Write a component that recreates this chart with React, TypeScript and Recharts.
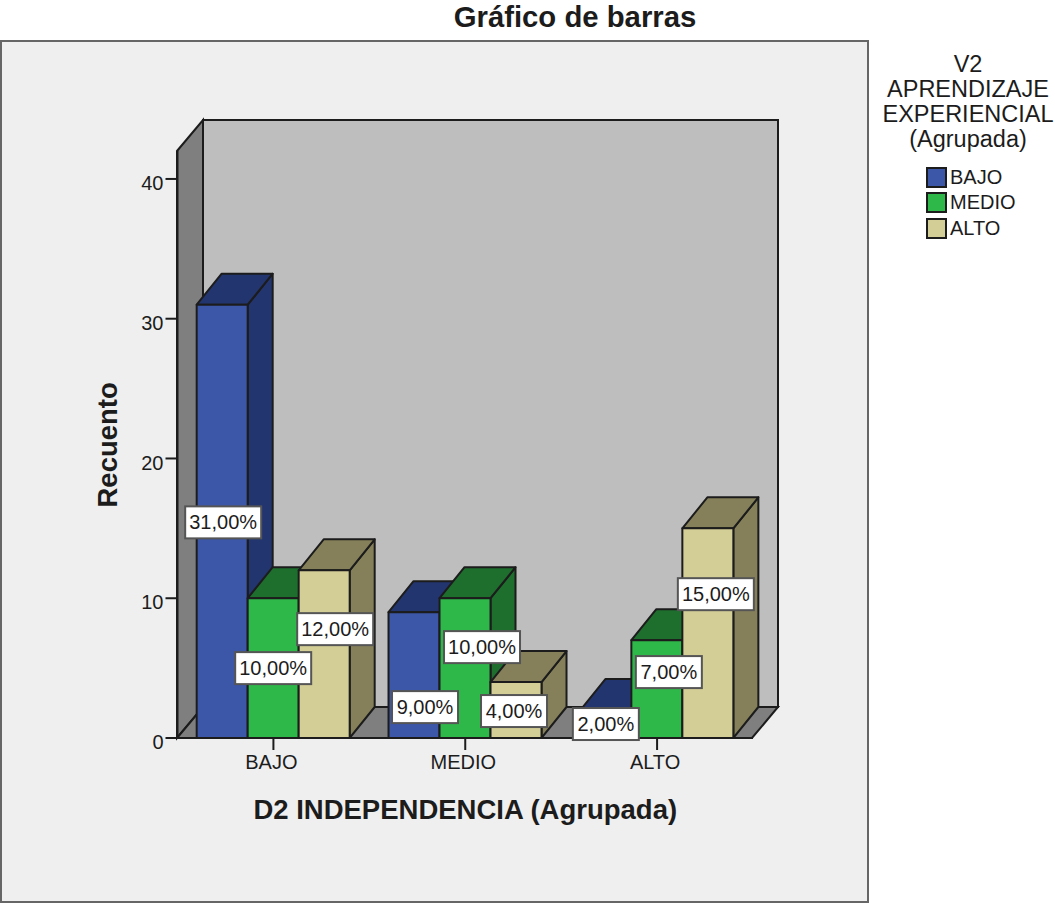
import { Bar, BarChart, LabelList, XAxis, YAxis } from "recharts";

const categories = ["BAJO", "MEDIO", "ALTO"];
const bajoValues = [31, 9, 2];
const medioValues = [10, 10, 7];
const altoValues = [12, 4, 15];
const yTicks = [0, 10, 20, 30, 40];

const legendTitle = ["V2", "APRENDIZAJE", "EXPERIENCIAL", "(Agrupada)"];

const chartData = categories.map((name, i) => ({
  name,
  BAJO: bajoValues[i],
  MEDIO: medioValues[i],
  ALTO: altoValues[i],
}));

const SERIES = [
  { key: "BAJO", front: "#3c56a8", dark: "#23356f", nudge: [[1, 1], [11, 32], [0, 0]] },
  { key: "MEDIO", front: "#2fb84a", dark: "#1e6e2e", nudge: [[0, 0], [17, -21], [12, -17]] },
  { key: "ALTO", front: "#d3cd96", dark: "#85805a", nudge: [[11, -25], [-2, 1], [8, -39]] },
];

const FONT = "'Liberation Sans', Arial, sans-serif";
const INK = "#1c1c1c";
const DEPTH_X = 25;
const DEPTH_Y = 31;

function Bar3D(props: any) {
  const { x, y, width, height, fill, dark } = props;
  const r = x + width;
  const b = y + height;
  return (
    <g stroke={INK} strokeWidth={2} strokeLinejoin="round">
      <polygon
        fill={dark}
        points={`${r},${y} ${r + DEPTH_X},${y - DEPTH_Y} ${r + DEPTH_X},${b - DEPTH_Y} ${r},${b}`}
      />
      <polygon
        fill={dark}
        points={`${x},${y} ${x + DEPTH_X},${y - DEPTH_Y} ${r + DEPTH_X},${y - DEPTH_Y} ${r},${y}`}
      />
      <rect x={x} y={y} width={width} height={height} fill={fill} />
    </g>
  );
}

function PercentLabel(props: any) {
  const { x, y, width, height, value, index, nudge } = props;
  const text = `${value},00%`;
  const w = text.length > 5 ? 76 : 66;
  const cx = x + width / 2 + nudge[index][0];
  const cy = y + height / 2 + nudge[index][1];
  return (
    <g>
      <rect x={cx - w / 2} y={cy - 16} width={w} height={32} fill="#fff" stroke="#555" strokeWidth={2} />
      <text
        x={cx}
        y={cy + 7}
        textAnchor="middle"
        fontFamily={FONT}
        fontSize={20}
        fill={INK}
      >
        {text}
      </text>
    </g>
  );
}

function Backdrop() {
  return (
    <svg width={1055} height={903} style={{ position: "absolute", left: 0, top: 0 }}>
      <rect x={1} y={41} width={867} height={861} fill="#efefef" stroke="#666" strokeWidth={2} />
      <polygon points="177,151 203,120 203,707 177,738" fill="#7f7f7f" stroke={INK} strokeWidth={2} />
      <polygon points="177,738 203,707 778,707 752,738" fill="#7f7f7f" stroke={INK} strokeWidth={2} />
      <rect x={203} y={120} width={575} height={587} fill="#bebebe" stroke={INK} strokeWidth={2} />
      <text
        x={575}
        y={27}
        textAnchor="middle"
        fontFamily={FONT}
        fontWeight="bold"
        fontSize={29.3}
        fill={INK}
      >
        Gráfico de barras
      </text>
    </svg>
  );
}

function LegendBlock() {
  return (
    <div style={{ position: "absolute", left: 868, top: 52, width: 200, fontFamily: FONT, color: INK }}>
      {legendTitle.map((line) => (
        <div key={line} style={{ fontSize: 23.5, lineHeight: "25px", textAlign: "center" }}>
          {line}
        </div>
      ))}
      {SERIES.map((s, i) => (
        <div key={s.key} style={{ position: "absolute", left: 58, top: 115 + i * 25.3, display: "flex", alignItems: "center" }}>
          <span
            style={{
              width: 17,
              height: 17,
              background: s.front,
              border: `2px solid ${INK}`,
              display: "inline-block",
            }}
          />
          <span style={{ fontSize: 20, marginLeft: 3, lineHeight: "21px" }}>{s.key}</span>
        </div>
      ))}
    </div>
  );
}

export default function App() {
  const tick = { fill: INK, fontSize: 20, fontFamily: FONT };
  const axisTitle = { fill: INK, fontSize: 27.5, fontWeight: "bold", fontFamily: FONT };
  return (
    <div style={{ position: "absolute", left: 0, top: 0, width: 1055, height: 903 }}>
      <Backdrop />
      <div style={{ position: "absolute", left: 0, top: 0 }}>
        <BarChart
          width={1055}
          height={903}
          data={chartData}
          barCategoryGap="10%"
          barGap={0}
          margin={{ top: 151, right: 302, bottom: 75, left: 87.5 }}
        >
          <XAxis
            dataKey="name"
            height={90}
            tickSize={12}
            tickMargin={5}
            tick={{ ...tick, dx: -2 }}
            stroke={INK}
            strokeWidth={2}
            interval={0}
            label={{ value: "D2 INDEPENDENCIA (Agrupada)", position: "insideBottom", offset: 9, style: axisTitle }}
          />
          <YAxis
            width={90}
            domain={[0, 42]}
            ticks={yTicks}
            tickSize={12}
            tick={{ ...tick, dy: 4 }}
            stroke={INK}
            strokeWidth={2}
            allowDataOverflow
            label={{ value: "Recuento", angle: -90, position: "insideLeft", offset: 20, dy: 63, style: axisTitle }}
          />
          {SERIES.map((s) => (
            <Bar
              key={s.key}
              dataKey={s.key}
              fill={s.front}
              isAnimationActive={false}
              shape={(p: any) => <Bar3D {...p} dark={s.dark} />}
            >
              <LabelList dataKey={s.key} content={(p: any) => <PercentLabel {...p} nudge={s.nudge} />} />
            </Bar>
          ))}
        </BarChart>
      </div>
      <LegendBlock />
    </div>
  );
}
